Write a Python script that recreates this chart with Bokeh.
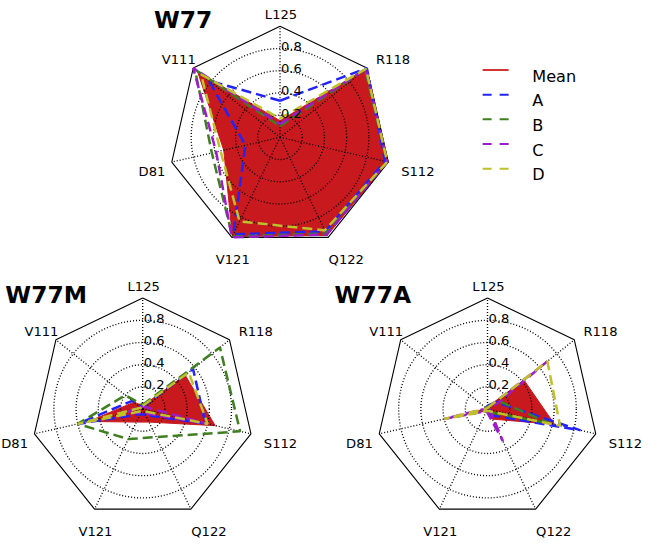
import numpy as np
from bokeh.plotting import figure
from bokeh.models import Range1d
from bokeh.embed import file_html
from bokeh.resources import INLINE
from bokeh.core.properties import value

# ---------------- data ----------------
categories = ["L125", "R118", "S112", "Q122", "V121", "D81", "V111"]  # clockwise from top
series_names = ["Mean", "A", "B", "C", "D"]
chart_titles = ["W77", "W77M", "W77A"]
rticks = [0.2, 0.4, 0.6, 0.8]
rtick_labels = ["0.2", "0.4", "0.6", "0.8"]

w77_mean = [0.15, 1.00, 1.00, 0.98, 0.99, 0.52, 0.95]
w77_a = [0.33, 1.00, 0.97, 0.94, 0.97, 0.32, 0.82]
w77_b = [0.10, 0.98, 0.99, 0.96, 0.99, 0.63, 0.98]
w77_c = [0.12, 0.99, 0.99, 0.97, 1.00, 0.59, 1.00]
w77_d = [0.17, 0.99, 0.99, 0.93, 0.84, 0.55, 0.91]

w77m_mean = [0.03, 0.49, 0.67, 0.13, 0.13, 0.50, 0.10]
w77m_a = [0.02, 0.58, 0.58, 0.06, 0.05, 0.60, 0.12]
w77m_b = [0.04, 0.89, 0.90, 0.28, 0.30, 0.60, 0.20]
w77m_c = [0.02, 0.03, 0.60, 0.04, 0.04, 0.15, 0.04]
w77m_d = [0.03, 0.53, 0.60, 0.02, 0.02, 0.60, 0.02]

w77a_mean = [0.02, 0.42, 0.62, 0.10, 0.02, 0.20, 0.01]
w77a_a = [0.03, 0.10, 0.86, 0.06, 0.02, 0.02, 0.02]
w77a_b = [0.02, 0.12, 0.58, 0.03, 0.02, 0.02, 0.02]
w77a_c = [0.01, 0.69, 0.02, 0.32, 0.02, 0.40, 0.01]
w77a_d = [0.01, 0.69, 0.67, 0.02, 0.02, 0.40, 0.01]

charts = [
    (w77_mean, [w77_a, w77_b, w77_c, w77_d]),
    (w77m_mean, [w77m_a, w77m_b, w77m_c, w77m_d]),
    (w77a_mean, [w77a_a, w77a_b, w77a_c, w77a_d]),
]

# ---------------- style / layout ----------------
RED = "#c8191e"
RED_LINE = "#d23535"
series_colors = ["#2323ff", "#3f7f20", "#9a1ccc", "#c0c02a"]
FONT = value("DejaVu Sans")

S = 0.974  # uniform scale so the whole drawing fits inside the figure
def fs(px):
    return "%.1fpx" % (px * S)

SHIFT = 6  # bottom row nudged up so the lowest labels stay inside
centers = [(287.0, 142.5), (146.0, 427.5 - SHIFT), (500.0, 427.5 - SHIFT)]
title_pos = [(157.5, 22.5), (5.0, 310.0 - SHIFT), (343.0, 310.5 - SHIFT)]
R = 114.0
label_off = [(1, -126), (116, -79.5), (141.5, 35), (68, 125.5),
             (-48.5, 125.5), (-131.5, 35), (-104, -79.5)]

W, H = 644, 542
p = figure(width=W, height=H, output_backend="svg", toolbar_location=None,
           x_range=Range1d(0, W / S), y_range=Range1d(2 + H / S, 2), min_border=0,
           x_axis_location=None, y_axis_location=None)
p.grid.visible = False
p.outline_line_color = None

n = len(categories)
theta = np.pi / 2 - 2 * np.pi * np.arange(n) / n


def pts(cx, cy, vals):
    v = np.asarray(vals, float)
    xs = cx + R * v * np.cos(theta)
    ys = cy - R * v * np.sin(theta)
    return list(xs) + [xs[0]], list(ys) + [ys[0]]


for (cx, cy), (tx, ty), title, (mean, others) in zip(centers, title_pos, chart_titles, charts):
    mx, my = pts(cx, cy, mean)
    p.patch(mx, my, fill_color=RED, line_color=RED, line_width=1)
    # grid
    for r in rticks:
        p.circle(x=[cx], y=[cy], radius=r * R, fill_color=None, line_color="black",
                 line_dash="1 2", line_width=1.35)
    ox, oy = pts(cx, cy, [1.0] * n)
    p.segment(x0=[cx] * n, y0=[cy] * n, x1=ox[:-1], y1=oy[:-1], line_color="black",
              line_dash="1 2", line_width=1.35)
    p.line(ox, oy, line_color="black", line_width=1.1)
    # series
    for vals, col in zip(others, series_colors):
        sx, sy = pts(cx, cy, vals)
        p.line(sx, sy, line_color=col, line_dash="10 5", line_width=2.5)
    # category labels
    p.text(x=[cx + dx for dx, dy in label_off], y=[cy + dy for dx, dy in label_off],
           text=categories, text_font=FONT, text_font_size=fs(13.5),
           text_align="center", text_baseline="alphabetic", text_color="black")
    # radial labels
    p.text(x=[cx + 1] * len(rticks), y=[cy - r * R - 2 for r in rticks], text=rtick_labels,
           text_font=FONT, text_font_size=fs(13.5), text_align="left",
           text_baseline="alphabetic", text_color="black")
    # title
    p.text(x=[tx], y=[ty], text=[title], text_font=FONT, text_font_size=fs(24),
           text_font_style="bold", text_align="left", text_baseline="alphabetic",
           text_color="black")

# legend
leg_y = [73.3 + i * 25.35 for i in range(len(series_names))]
leg_colors = [RED_LINE] + series_colors
for i, (name, col) in enumerate(zip(series_names, leg_colors)):
    if i == 0:
        p.segment(x0=[495], y0=[leg_y[i]], x1=[521.7], y1=[leg_y[i]], line_color=col, line_width=2)
    else:
        p.segment(x0=[495], y0=[leg_y[i]], x1=[521.7], y1=[leg_y[i]], line_color=col,
                  line_width=2, line_dash="9 8")
p.text(x=[546] * len(series_names), y=[y + 6.3 for y in leg_y], text=series_names,
       text_font=FONT, text_font_size=fs(16.5), text_align="left",
       text_baseline="alphabetic", text_color="black")

open("out.html", "w").write(file_html(p, INLINE))
